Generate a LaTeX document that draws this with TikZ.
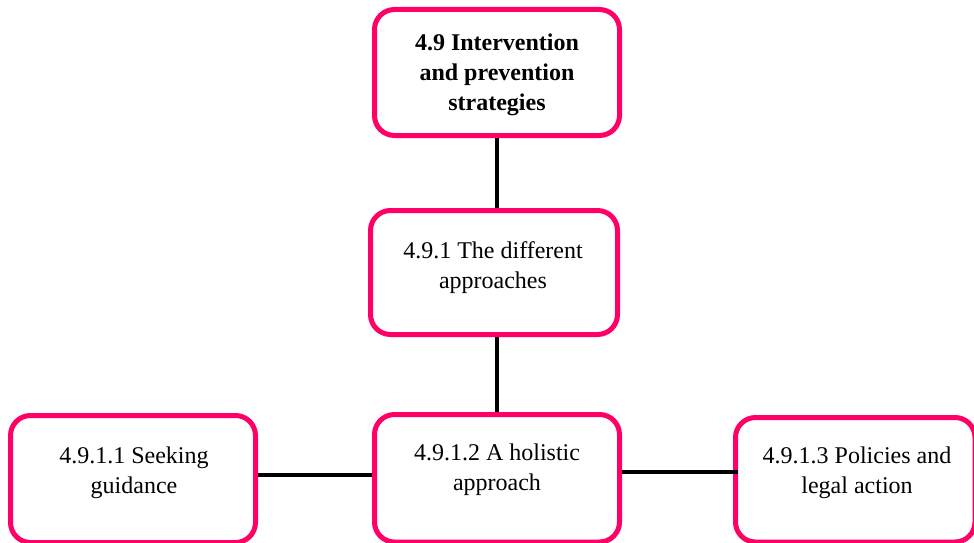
\documentclass[tikz,border=0pt]{standalone}
\usepackage{fontspec}
\setmainfont{Liberation Serif}
\definecolor{boxpink}{RGB}{255,0,102}
\begin{document}
\begin{tikzpicture}[x=1pt,y=-1pt,
  box/.style={draw=boxpink,line width=5pt,rounded corners=20pt,fill=white,inner sep=0pt},
  txt/.style={align=center,font=\fontsize{24}{30}\selectfont,inner sep=0pt},
  link/.style={draw=black,line width=3.5pt}]
  \useasboundingbox (0,0) rectangle (974,543);
  % boxes (centre, size in px)
  \node[box,minimum width=245pt,minimum height=126pt] (top) at (497,72.5) {};
  \node[box,minimum width=247pt,minimum height=124pt] (mid) at (494,272.5) {};
  \node[box,minimum width=245pt,minimum height=127pt] (bl)  at (133,479) {};
  \node[box,minimum width=245pt,minimum height=127.5pt] (bm)  at (497,478.25) {};
  \node[box,minimum width=239.5pt,minimum height=124.5pt] (br)  at (855.25,479.75) {};
  % connectors
  \draw[link] (top.south) -- (mid.north -| top.south);
  \draw[link] (mid.south -| top.south) -- (bm.north -| top.south);
  \draw[link] (bl.east |- 0,475) -- (bm.west |- 0,475);
  \draw[link] (bm.east |- 0,472) -- ([xshift=5pt]br.west |- 0,472);
  % labels
  \node[txt,font=\fontsize{24}{30}\selectfont\bfseries] (ttop) at (497,75) {4.9 Intervention\\and prevention\\strategies};
  \node[txt] (tmid) at (493,268) {4.9.1 The different\\approaches};
  \node[txt] (tbl) at (134,473) {4.9.1.1 Seeking\\guidance};
  \node[txt] (tbm) at (497,470) {4.9.1.2 A holistic\\approach};
  \node[txt] (tbr) at (857,473) {4.9.1.3 Policies and\\legal action};
\end{tikzpicture}
\end{document}
